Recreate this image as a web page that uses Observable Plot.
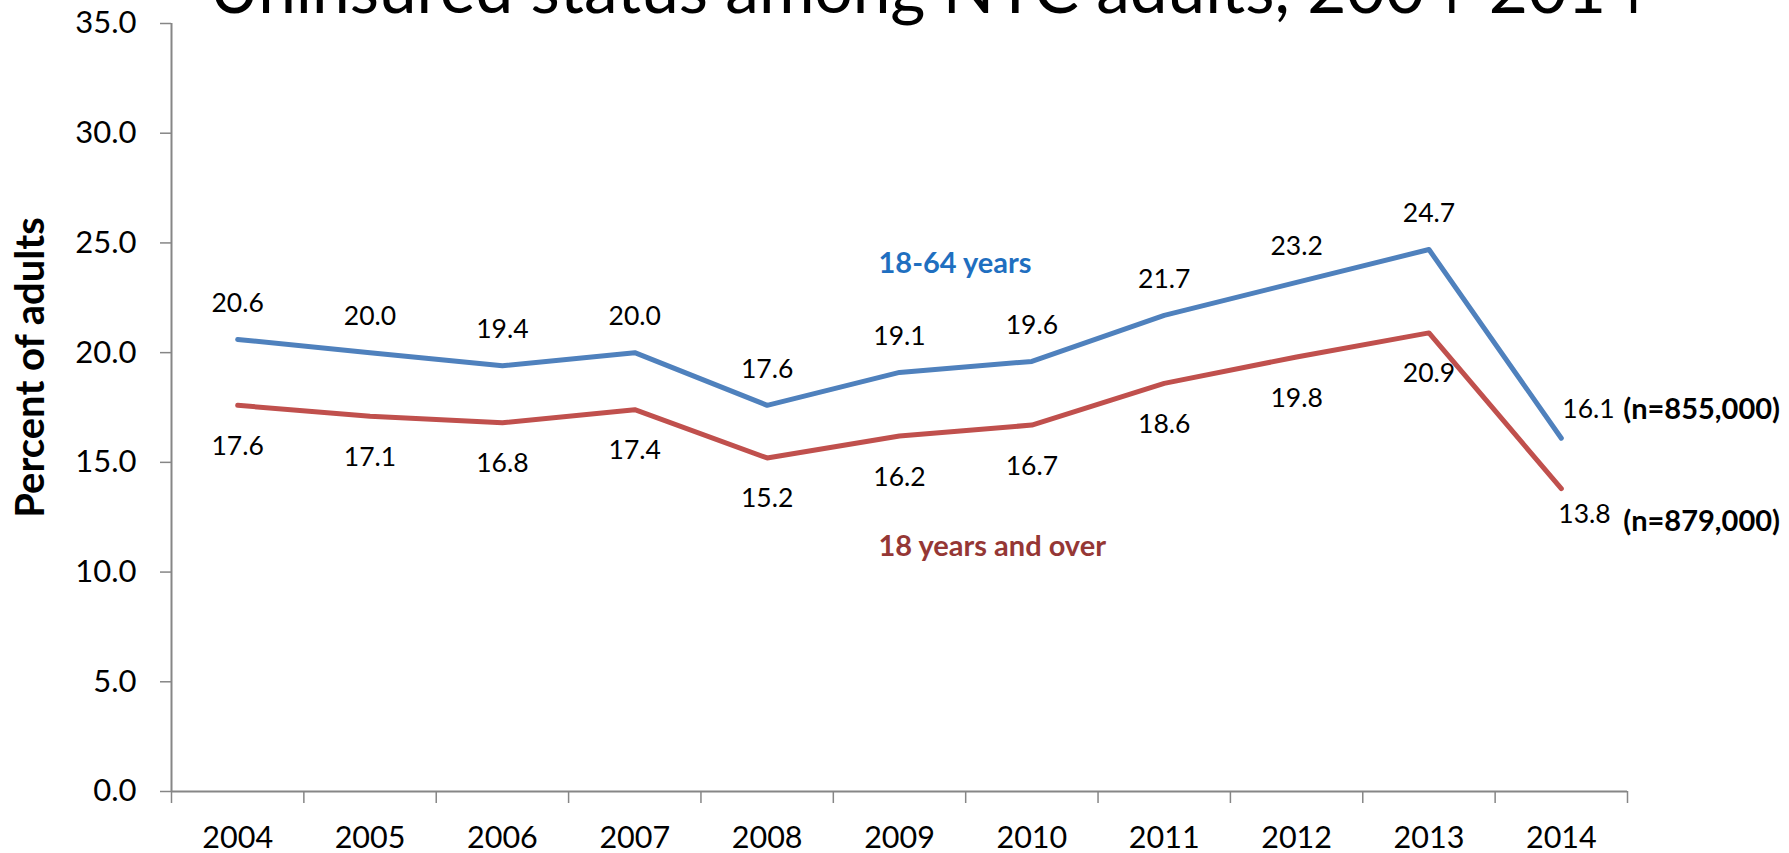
<!DOCTYPE html>
<html>
<head>
<meta charset="utf-8">
<script src="https://cdn.jsdelivr.net/npm/d3@7"></script>
<script src="https://cdn.jsdelivr.net/npm/@observablehq/plot@0.6"></script>
<style>
  html, body { margin: 0; padding: 0; background: #fff; overflow: hidden; }
  #chart { width: 1789px; height: 853px; }
</style>
</head>
<body>
<div id="chart"></div>
<script>
// ---- data ----
const titleText = "Uninsured status among NYC adults, 2004-2014";
const yAxisLabel = "Percent of adults";
const years = [2004, 2005, 2006, 2007, 2008, 2009, 2010, 2011, 2012, 2013, 2014];
const adults18to64 = [20.6, 20.0, 19.4, 20.0, 17.6, 19.1, 19.6, 21.7, 23.2, 24.7, 16.1];
const adults18plus = [17.6, 17.1, 16.8, 17.4, 15.2, 16.2, 16.7, 18.6, 19.8, 20.9, 13.8];
const yTicks = [0, 5, 10, 15, 20, 25, 30, 35];
const seriesNames = ["18-64 years", "18 years and over"];
const sampleSizes = ["(n=855,000)", "(n=879,000)"];
const labelYear = 2009;

// ---- derived tables ----
const rows = years.map((year, i) => ({year, a: adults18to64[i], b: adults18plus[i]}));
const lastYear = years[years.length - 1];
const xDomain = [years[0] - 0.5, lastYear + 0.5];
const boundaries = [...years.map(y => y - 0.5), lastYear + 0.5];
const bodyRows = rows.filter(d => d.year !== lastYear);
const lastRows = rows.filter(d => d.year === lastYear);
const anchorRows = rows.filter(d => d.year === labelYear);
const fmt = d3.format(".1f");

const blue = "#4F81BD", red = "#C0504D", axisGray = "#868686";
const blueText = "#1F6FC0", redText = "#953735";
const font = "Lato, 'Open Sans', sans-serif";

const chart = Plot.plot({
  width: 1789,
  height: 853,
  marginLeft: 171,
  marginRight: 162,
  marginTop: 23,
  marginBottom: 62,
  style: {fontFamily: font, color: "#000", background: "#fff", overflow: "visible"},
  x: {type: "linear", domain: xDomain},
  y: {domain: [0, 35]},
  marks: [
    Plot.axisY(yTicks, {tickSize: 11, tickPadding: 24, tickFormat: fmt, fontSize: 31, stroke: axisGray, strokeWidth: 1.5, label: null}),
    Plot.axisX(boundaries, {tickSize: 12, tickFormat: () => "", stroke: axisGray, strokeWidth: 1.5, label: null}),
    Plot.axisX(years, {tickSize: 0, tickPadding: 35, tickFormat: d => String(d), fontSize: 30.5, label: null}),
    Plot.ruleX([xDomain[0]], {stroke: axisGray, strokeWidth: 2}),
    Plot.ruleY([0], {stroke: axisGray, strokeWidth: 2}),
    Plot.line(rows, {x: "year", y: "b", stroke: red, strokeWidth: 5, strokeLinecap: "round", strokeLinejoin: "round"}),
    Plot.line(rows, {x: "year", y: "a", stroke: blue, strokeWidth: 5, strokeLinecap: "round", strokeLinejoin: "round"}),
    // data labels
    Plot.text(bodyRows, {x: "year", y: "a", text: d => fmt(d.a), dy: -36, fontSize: 26.5, fill: "#000"}),
    Plot.text(bodyRows, {x: "year", y: "b", text: d => fmt(d.b), dy: 41, fontSize: 26.5, fill: "#000"}),
    // last-year labels with sample sizes
    Plot.text(lastRows, {x: "year", y: "a", text: d => fmt(d.a), textAnchor: "start", dx: 1, dy: -29, fontSize: 26.5, fill: "#000"}),
    Plot.text(lastRows, {x: "year", y: "a", text: () => sampleSizes[0], textAnchor: "start", dx: 62, dy: -29, fontSize: 29, fontWeight: "bold", fill: "#000"}),
    Plot.text(lastRows, {x: "year", y: "b", text: d => fmt(d.b), textAnchor: "start", dx: -3, dy: 26, fontSize: 26.5, fill: "#000"}),
    Plot.text(lastRows, {x: "year", y: "b", text: () => sampleSizes[1], textAnchor: "start", dx: 62, dy: 33, fontSize: 29, fontWeight: "bold", fill: "#000"}),
    // series labels
    Plot.text(anchorRows, {x: "year", y: "a", text: () => seriesNames[0], textAnchor: "start", dx: -21, dy: -109, fontSize: 29, fontWeight: "bold", fill: blueText}),
    Plot.text(anchorRows, {x: "year", y: "b", text: () => seriesNames[1], textAnchor: "start", dx: -21, dy: 111, fontSize: 29, fontWeight: "bold", fill: redText}),
    // y axis title
    Plot.text([yAxisLabel], {frameAnchor: "left", textAnchor: "middle", lineAnchor: "middle", text: d => d, rotate: -90, dx: -140, dy: -40, fontSize: 40, fontWeight: "bold", fill: "#000"}),
    // chart title (cropped at the top, as in the reference)
    Plot.text([titleText], {frameAnchor: "top", textAnchor: "middle", lineAnchor: "middle", text: d => d, dx: 28, dy: -31.8, fontSize: 67.5, fill: "#000"})
  ]
});
document.getElementById("chart").appendChild(chart);
</script>
</body>
</html>
